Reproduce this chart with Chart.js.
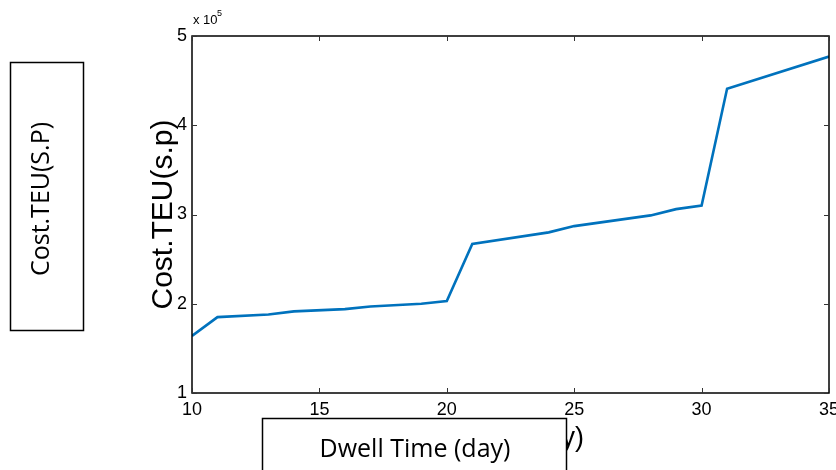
<!DOCTYPE html>
<html>
<head>
<meta charset="utf-8">
<script src="https://cdn.jsdelivr.net/npm/chart.js@4/dist/chart.umd.min.js"></script>
<style>
    html, body { margin: 0; padding: 0; background: #fff; }
    .wrap { width: 836px; height: 470px; position: relative; }
</style>
</head>
<body>
<div class="wrap"><canvas id="chart" width="836" height="470"></canvas></div>
<script>
// dwell time (day) and cost per TEU (in units of 10^5)
const dwellDays = [10, 11, 13, 14, 16, 17, 19, 20, 21, 24, 25, 28, 29, 30, 31, 35];
const costTEU = [1.64, 1.85, 1.88, 1.915, 1.94, 1.97, 2.0, 2.03, 2.67, 2.8, 2.87, 2.99, 3.06, 3.1, 4.41, 4.77];
const xTicks = [10, 15, 20, 25, 30, 35];
const yTicks = [1, 2, 3, 4, 5];

const LINE_COLOR = '#0072BD';
const NARROW = '"Liberation Sans Narrow", "Arial Narrow", "Liberation Sans", Arial, sans-serif';
const SANS = '"Liberation Sans", Arial, sans-serif';
const BOX_FONT = '"Open Sans", Calibri, sans-serif';

// matlab-ish box, inward ticks, exponent label and the two pasted text boxes
const decorations = {
    id: 'decorations',
    afterDraw(chart) {
        const {ctx, chartArea: a, scales: {x, y}} = chart;
        const len = 5;

        ctx.save();
        ctx.strokeStyle = '#000';
        ctx.lineWidth = 1.5;
        ctx.strokeRect(a.left, a.top, a.right - a.left, a.bottom - a.top);

        ctx.lineWidth = 1;
        ctx.strokeStyle = '#333';
        ctx.beginPath();
        xTicks.forEach(v => {
            const px = Math.round(x.getPixelForValue(v)) + 0.5;
            ctx.moveTo(px, a.bottom); ctx.lineTo(px, a.bottom - len);
            ctx.moveTo(px, a.top); ctx.lineTo(px, a.top + len);
        });
        yTicks.forEach(v => {
            const py = Math.round(y.getPixelForValue(v)) + 0.5;
            ctx.moveTo(a.left, py); ctx.lineTo(a.left + len, py);
            ctx.moveTo(a.right, py); ctx.lineTo(a.right - len, py);
        });
        ctx.stroke();

        // exponent
        ctx.fillStyle = '#000';
        ctx.textBaseline = 'alphabetic';
        ctx.textAlign = 'left';
        ctx.font = '13px ' + NARROW;
        ctx.fillText('x 10', a.left + 1, 24);
        ctx.font = '9px ' + NARROW;
        ctx.fillText('5', a.left + 25, 16);

        // original x label, mostly covered by the box
        ctx.font = '27px ' + NARROW;
        ctx.textAlign = 'right';
        ctx.fillText('Dwell Time (day)', 584, 446);

        // bottom box
        ctx.fillStyle = '#fff';
        ctx.fillRect(262, 418, 305, 60);
        ctx.strokeStyle = '#000';
        ctx.lineWidth = 1.5;
        ctx.strokeRect(262.5, 418.5, 304, 60);
        ctx.fillStyle = '#000';
        ctx.textAlign = 'center';
        ctx.font = '25px ' + BOX_FONT;
        ctx.fillText('Dwell Time (day)', 415, 457);

        // left box
        ctx.strokeRect(10.5, 62.5, 73, 268);
        ctx.translate(49, 199);
        ctx.rotate(-Math.PI / 2);
        ctx.fillText('Cost.TEU(S.P)', 0, 0);
        ctx.restore();
    }
};

new Chart(document.getElementById('chart'), {
    type: 'line',
    data: {
        datasets: [{
            data: dwellDays.map((d, i) => ({x: d, y: costTEU[i]})),
            borderColor: LINE_COLOR,
            borderWidth: 2.6,
            pointRadius: 0,
            tension: 0,
            fill: false
        }]
    },
    options: {
        responsive: false,
        animation: false,
        events: [],
        layout: {padding: {top: 36, right: 7, left: 149, bottom: 0}},
        plugins: {legend: {display: false}, tooltip: {enabled: false}},
        scales: {
            x: {
                type: 'linear',
                min: 10,
                max: 35,
                afterFit: scale => {
                    scale.height = 77;
                    scale.paddingLeft = 0;
                    scale.paddingRight = 0;
                },
                afterBuildTicks: scale => { scale.ticks = xTicks.map(v => ({value: v})); },
                grid: {display: false, drawTicks: false},
                border: {display: false},
                ticks: {color: '#000', padding: 6, font: {family: NARROW, size: 18}}
            },
            y: {
                min: 1,
                max: 5,
                afterFit: scale => {
                    scale.width = 43;
                    scale.paddingTop = 0;
                    scale.paddingBottom = 0;
                },
                afterBuildTicks: scale => { scale.ticks = yTicks.map(v => ({value: v})); },
                grid: {display: false, drawTicks: false},
                border: {display: false},
                ticks: {color: '#000', padding: 5, font: {family: NARROW, size: 18}},
                title: {
                    display: true,
                    text: 'Cost.TEU(s.p)',
                    color: '#000',
                    padding: 0,
                    font: {family: SANS, size: 30, lineHeight: 1}
                }
            }
        }
    },
    plugins: [decorations]
});
</script>
</body>
</html>
